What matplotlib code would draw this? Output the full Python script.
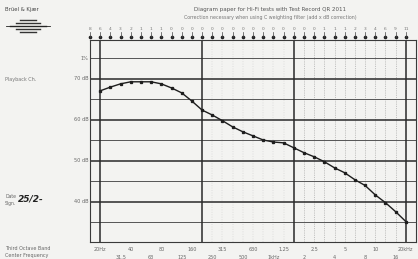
import matplotlib
matplotlib.use("Agg")
import matplotlib.pyplot as plt
from matplotlib.lines import Line2D

# third-octave bands (index 0 = 20 Hz ... 30 = 20 kHz); -1 = 16 Hz
band_freqs = ["16", "20", "25", "31.5", "40", "50", "63", "80", "100", "125", "160",
              "200", "250", "315", "400", "500", "630", "800", "1k", "1.25k", "1.6k",
              "2k", "2.5k", "3.15k", "4k", "5k", "6.3k", "8k", "10k", "12.5k", "16k", "20k"]
c_correction = ["8", "6", "4", "3", "2", "1", "1", "1", "0", "0", "0", "0", "0", "0", "0",
                "0", "0", "0", "0", "0", "0", "0", "0", "1", "1", "1", "2", "3", "4", "6",
                "9", "11"]
level_db = [67.1, 68.0, 68.8, 69.3, 69.3, 69.3, 68.8, 67.8, 66.6, 64.6, 62.4, 61.2,
            59.8, 58.3, 57.1, 56.1, 55.1, 54.6, 54.4, 53.2, 52.0, 51.0, 49.8, 48.3,
            47.1, 45.4, 44.0, 41.7, 39.8, 37.6, 35.2]
row1_labels = ["20Hz", "40", "80", "160", "315", "630", "1.25", "2.5", "5", "10", "20kHz"]
row1_pos = [0, 3, 6, 9, 12, 15, 18, 21, 24, 27, 30]
row2_labels = ["31.5", "63", "125", "250", "500", "1kHz", "2", "4", "8", "16"]
row2_pos = [2, 5, 8, 11, 14, 17, 20, 23, 26, 29]
major_db = [70, 60, 50, 40]
major_lbl = ["70 dB", "60 dB", "50 dB", "40 dB"]
minor_db = [75, 65, 55, 45, 35]

W, H = 418, 259
paper = "#f3f3f1"
ink = "#3a3a3a"
fig = plt.figure(figsize=(W / 100, H / 100), dpi=100, facecolor=paper)
ax = fig.add_axes([90 / W, 1 - 242 / H, (416 - 90) / W, (242 - 40) / H], facecolor=paper)
ax.set_xlim(-1, 31)
ax.set_ylim(30.2, 79.5)
for s in ax.spines.values():
    s.set_color(ink)
    s.set_linewidth(0.8)
ax.set_xticks([])
ax.set_yticks([])

# grid
for v in major_db:
    ax.axhline(v, color="#2a2a2a", lw=1.1, zorder=1)
for v in minor_db:
    ax.axhline(v, color="#555555", lw=0.7, zorder=1)
for b in [0, 10, 19, 30]:
    ax.axvline(b, color="#2a2a2a", lw=1.1, zorder=1)
for b in range(20, 30):
    ax.axvline(b, color="#9a9a9a", lw=0.4, ls=(0, (2, 2)), zorder=0)
for b in range(11, 19):
    ax.axvline(b, color="#c8c8c8", lw=0.35, ls=(0, (2, 3)), zorder=0)

# y labels
tr = ax.get_yaxis_transform()
for v, l in zip(major_db, major_lbl):
    ax.text(-0.005, v, l, transform=tr, ha="right", va="center", fontsize=3.6, color="#666")
ax.text(-0.005, 75, "1%", transform=tr, ha="right", va="center", fontsize=3.6, color="#666")

# x labels
xt = ax.get_xaxis_transform()
for p, l in zip(row1_pos, row1_labels):
    ax.text(p, -0.025, l, transform=xt, ha="center", va="top", fontsize=3.5, color="#666")
for p, l in zip(row2_pos, row2_labels):
    ax.text(p, -0.065, l, transform=xt, ha="center", va="top", fontsize=3.5, color="#666")

# top row: C-weighting corrections and dots
for i, c in enumerate(c_correction):
    b = i - 1
    ax.text(b, 1.045, c, transform=xt, ha="center", va="bottom", fontsize=3.2, color="#777")
    ax.plot([b], [1.015], transform=xt, marker="o", ms=1.6, color="#222", clip_on=False)
    ax.plot([b, b], [1.015, 1.04], transform=xt, color="#444", lw=0.5, clip_on=False)

# curve
bands = list(range(len(level_db)))
ax.plot(bands, level_db, color="#1e1e1e", lw=1.0, marker="s", ms=1.4, zorder=3)

# header texts
fig.text(270 / W, 1 - 10 / H, "Diagram paper for Hi-Fi tests with Test Record QR 2011",
         ha="center", va="center", fontsize=4.0, color="#555")
fig.text(270 / W, 1 - 18 / H, "Correction necessary when using C weighting filter (add x dB correction)",
         ha="center", va="center", fontsize=3.4, color="#777")
fig.text(5 / W, 1 - 9 / H, "Brüel & Kjær", ha="left", va="center", fontsize=3.8, color="#444")
# logo strokes
for dy, x0, x1 in [(20, 20, 36), (23, 16, 40), (26, 10, 46), (29, 16, 40), (32, 20, 36)]:
    fig.add_artist(Line2D([x0 / W, x1 / W], [1 - dy / H, 1 - dy / H], color="#333", lw=1.0))
fig.add_artist(Line2D([6 / W, 50 / W], [1 - 26 / H, 1 - 26 / H], color="#222", lw=0.6))

fig.text(5 / W, 1 - 80 / H, "Playback Ch.", ha="left", va="center", fontsize=3.5, color="#777")
fig.text(5 / W, 1 - 197 / H, "Date", ha="left", va="center", fontsize=3.3, color="#666")
fig.text(5 / W, 1 - 204 / H, "Sign.", ha="left", va="center", fontsize=3.3, color="#666")
fig.text(18 / W, 1 - 199 / H, "25/2-", ha="left", va="center", fontsize=6.5, color="#222",
         style="italic", fontweight="bold")
fig.text(5 / W, 1 - 249 / H, "Third Octave Band", ha="left", va="center", fontsize=3.5, color="#666")
fig.text(5 / W, 1 - 255 / H, "Center Frequency", ha="left", va="center", fontsize=3.5, color="#666")

fig.savefig("out.png", dpi=100, facecolor=paper)
